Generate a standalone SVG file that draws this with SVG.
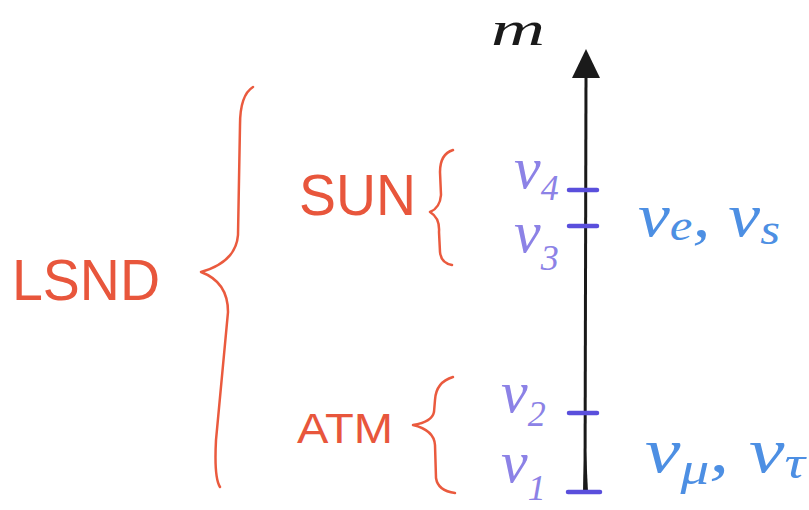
<svg xmlns="http://www.w3.org/2000/svg" width="809" height="510" viewBox="0 0 809 510">
<style>
.red{fill:#e8563c;font-family:"Liberation Sans",Arial,sans-serif;}
.brace{fill:none;stroke:#ea5a3e;stroke-width:2.5;stroke-linecap:round;stroke-linejoin:round;}
.nu{fill:#8c82e6;font-family:"Liberation Serif","Times New Roman",serif;font-style:italic;}
.blue{fill:#4d8fe3;font-family:"Liberation Serif","Times New Roman",serif;font-style:italic;}
.tick{stroke:#5a4fdc;stroke-width:4.5;stroke-linecap:round;}
.axis{stroke:#1a1a1a;stroke-width:3;fill:none;}
</style>
<rect width="809" height="510" fill="#ffffff"/>
<g id="connectors">
<line class="axis" x1="585" y1="492" x2="586" y2="74"/>
<path d="M583 492 L585 430 L588 492 Z" fill="#1a1a1a"/>
<polygon points="586,49 572,78 600,78" fill="#1a1a1a"/>
<line class="tick" x1="569" y1="190" x2="597" y2="190"/>
<line class="tick" x1="569" y1="226" x2="597" y2="226"/>
<line class="tick" x1="569" y1="413" x2="597" y2="413"/>
<line class="tick" x1="568" y1="492" x2="600" y2="492"/>
</g>
<g id="m-label">
<text x="491" y="45" font-family="Liberation Serif,serif" font-style="italic" font-size="48" textLength="54" lengthAdjust="spacingAndGlyphs" fill="#1a1a1a">m</text>
</g>
<g id="lsnd">
<text class="red" x="12" y="300" font-size="58" textLength="148" lengthAdjust="spacingAndGlyphs">LSND</text>
<path class="brace" d="M253 87 Q240 95 240 125 L238 235 Q236 262 201 272 Q228 282 228 312 L216 440 Q214 478 220 487"/>
</g>
<g id="sun">
<text class="red" x="299" y="215" font-size="58" textLength="117" lengthAdjust="spacingAndGlyphs">SUN</text>
<path class="brace" d="M453 150 Q440 154 440 172 L441 195 Q440 208 430 212 Q440 218 439 232 L440 252 Q441 263 452 265"/>
</g>
<g id="atm">
<text class="red" x="297" y="443" font-size="42" textLength="96" lengthAdjust="spacingAndGlyphs">ATM</text>
<path class="brace" stroke-width="4" d="M453 377 Q436 382 435 400 L434 412 Q432 422 413 425 Q434 430 435 445 L436 478 Q438 491 455 493"/>
</g>
<g id="nu4">
<text class="nu" x="514" y="188" font-size="60">ν<tspan font-size="36" dy="12">4</tspan></text>
</g>
<g id="nu3">
<text class="nu" x="514" y="252" font-size="60">ν<tspan font-size="36" dy="18">3</tspan></text>
</g>
<g id="nu2">
<text class="nu" x="501" y="412" font-size="60">ν<tspan font-size="36" dy="14">2</tspan></text>
</g>
<g id="nu1">
<text class="nu" x="501" y="482" font-size="60">ν<tspan font-size="36" dy="18">1</tspan></text>
</g>
<g id="flavors-es">
<text class="blue" x="638" y="236" font-size="62" textLength="142" lengthAdjust="spacingAndGlyphs">ν<tspan font-size="44" dy="4">e</tspan><tspan dy="-4">, ν</tspan><tspan font-size="44" dy="8">s</tspan></text>
</g>
<g id="flavors-mt">
<text class="blue" x="645" y="472" font-size="64" textLength="160" lengthAdjust="spacingAndGlyphs">ν<tspan font-size="46" dy="12">μ</tspan><tspan dy="-12">, ν</tspan><tspan font-size="46" dy="6">τ</tspan></text>
</g>
</svg>
